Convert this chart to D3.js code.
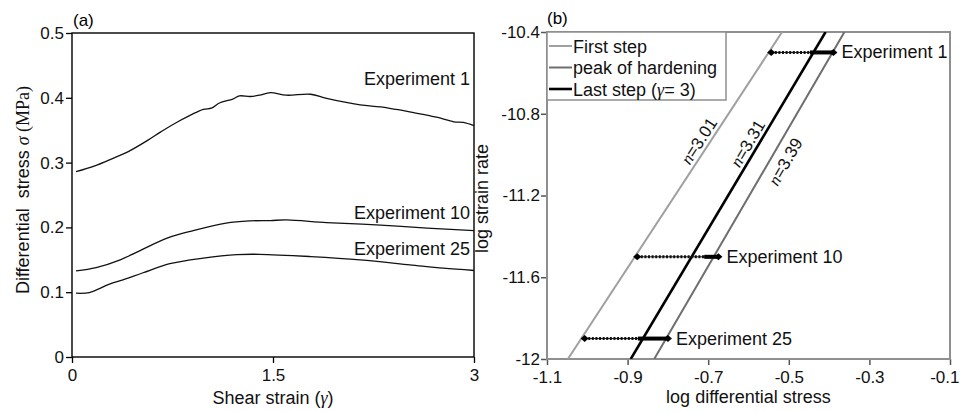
<!DOCTYPE html>
<html>
<head>
<meta charset="utf-8">
<script src="https://cdn.jsdelivr.net/npm/d3@7/dist/d3.min.js"></script>
<style>
  html, body { margin: 0; padding: 0; background: #fff; }
  svg { display: block; font-family: "Liberation Sans", Arial, sans-serif; }
  text { white-space: pre; }
</style>
</head>
<body>
<svg id="chart" width="960" height="412"></svg>
<script>
// ---- (a) stress–strain curves -------------------------------------------
const gammaExp1  = [0.03, 0.17, 0.31, 0.42, 0.57, 0.66, 0.79, 0.98, 1.04, 1.10, 1.20, 1.25, 1.33, 1.40, 1.48, 1.60, 1.78, 1.90, 2.15, 2.30, 2.42, 2.55, 2.72, 2.85, 2.92, 3.00];
const stressExp1 = [0.286, 0.295, 0.307, 0.317, 0.335, 0.347, 0.363, 0.382, 0.384, 0.392, 0.398, 0.403, 0.402, 0.404, 0.408, 0.404, 0.4055, 0.399, 0.389, 0.386, 0.382, 0.377, 0.370, 0.363, 0.362, 0.357];

const gammaExp10  = [0.03, 0.18, 0.36, 0.53, 0.71, 0.905, 1.15, 1.33, 1.48, 1.60, 1.90, 2.27, 2.65, 3.00];
const stressExp10 = [0.133, 0.138, 0.150, 0.1665, 0.1835, 0.195, 0.2066, 0.210, 0.2106, 0.2115, 0.2075, 0.204, 0.199, 0.195];

const gammaExp25  = [0.03, 0.13, 0.28, 0.38, 0.53, 0.73, 0.98, 1.23, 1.40, 1.78, 2.15, 2.52, 2.77, 3.00];
const stressExp25 = [0.0985, 0.0995, 0.1125, 0.119, 0.130, 0.144, 0.1526, 0.158, 0.1585, 0.155, 0.150, 0.1423, 0.137, 0.1335];

const experimentNames = ["Experiment 1", "Experiment 10", "Experiment 25"];

const strainTicks = [0, 1.5, 3];
const strainTickLabels = ["0", "1.5", "3"];
const stressTicks = [0, 0.1, 0.2, 0.3, 0.4, 0.5];
const stressTickLabels = ["0", "0.1", "0.2", "0.3", "0.4", "0.5"];

// ---- (b) flow-law plot ----------------------------------------------------
const logStrainRate = [-10.5, -11.5, -11.9];          // one row per experiment
const fitNames      = ["First step", "peak of hardening", "Last step"];
const fitExponent   = [3.01, 3.39, 3.31];               // n
const fitIntercept  = [-8.845, -9.173, -9.047];        // log rate at log stress = 0
const fitLabelRate  = [-10.96, -11.0, -10.97];         // where each n label sits

const logStressTicks = [-1.1, -0.9, -0.7, -0.5, -0.3, -0.1];
const logStressTickLabels = ["-1.1", "-0.9", "-0.7", "-0.5", "-0.3", "-0.1"];
const logRateTicks = [-12, -11.6, -11.2, -10.8, -10.4];
const logRateTickLabels = ["-12", "-11.6", "-11.2", "-10.8", "-10.4"];

// ---------------------------------------------------------------------------
const svg = d3.select("#chart");
const SERIF = "'Liberation Serif', 'Times New Roman', serif";
const FS = 17;

const curves = [
  { name: experimentNames[0], g: gammaExp1,  s: stressExp1 },
  { name: experimentNames[1], g: gammaExp10, s: stressExp10 },
  { name: experimentNames[2], g: gammaExp25, s: stressExp25 }
];

// ===== Panel (a) =====
const xL = d3.scaleLinear().domain([0, 3]).range([72, 474]);
const yL = d3.scaleLinear().domain([0, 0.5]).range([357, 33]);

const pa = svg.append("g");

pa.append("g")
  .attr("transform", `translate(0,${yL(0)})`)
  .call(d3.axisBottom(xL).tickValues(strainTicks)
        .tickFormat((d, i) => strainTickLabels[i]).tickSize(6).tickPadding(6))
  .call(g => g.select(".domain").remove());

pa.append("g")
  .attr("transform", `translate(${xL(0)},0)`)
  .call(d3.axisLeft(yL).tickValues(stressTicks)
        .tickFormat((d, i) => stressTickLabels[i]).tickSize(6).tickPadding(2))
  .call(g => g.select(".domain").remove());

pa.selectAll(".tick line").attr("stroke", "#000").attr("stroke-width", 1.3);
pa.selectAll(".tick text").attr("font-size", FS).attr("fill", "#111")
  .attr("font-family", "'Liberation Sans', Arial, sans-serif");

pa.append("rect")
  .attr("x", xL(0)).attr("y", yL(0.5))
  .attr("width", xL(3) - xL(0)).attr("height", yL(0) - yL(0.5))
  .attr("fill", "none").attr("stroke", "#000").attr("stroke-width", 1.4);

const lineL = d3.line()
  .x(d => xL(d[0])).y(d => yL(d[1]))
  .curve(d3.curveCatmullRom.alpha(0.5));

curves.forEach(c => {
  pa.append("path")
    .datum(c.g.map((g, i) => [g, c.s[i]]))
    .attr("d", lineL)
    .attr("fill", "none").attr("stroke", "#111").attr("stroke-width", 1.3);
});

// curve labels, right-aligned against the frame
const curveLabelY = [0.42, 0.213, 0.157];
curves.forEach((c, i) => {
  pa.append("text")
    .attr("x", xL(3) - 4).attr("y", yL(curveLabelY[i]))
    .attr("text-anchor", "end").attr("font-size", 18).attr("fill", "#111")
    .text(c.name);
});

pa.append("text").attr("x", 73).attr("y", 26).attr("font-size", 17).text("(a)");

// axis titles
const xtA = pa.append("text").attr("x", xL(1.5)).attr("y", 404)
  .attr("text-anchor", "middle").attr("font-size", 18).attr("fill", "#111");
xtA.append("tspan").text("Shear strain (");
xtA.append("tspan").attr("font-family", SERIF).attr("font-style", "italic").text("γ");
xtA.append("tspan").text(")");

const ytA = pa.append("text").attr("transform", "translate(29,190) rotate(-90)")
  .attr("text-anchor", "middle").attr("font-size", 18).attr("fill", "#111");
ytA.append("tspan").text("Differential  stress ");
ytA.append("tspan").attr("font-family", SERIF).attr("font-style", "italic").text("σ");
ytA.append("tspan").attr("font-family", SERIF).text(" (MPa)");

// ===== Panel (b) =====
const xR = d3.scaleLinear().domain([-1.1, -0.1]).range([547, 950]);
const yR = d3.scaleLinear().domain([-12, -10.4]).range([359, 32]);
const frameGrey = "#8f8f8f";

const pb = svg.append("g");

pb.append("defs").append("clipPath").attr("id", "clipB")
  .append("rect").attr("x", xR(-1.1)).attr("y", yR(-10.4))
  .attr("width", xR(-0.1) - xR(-1.1)).attr("height", yR(-12) - yR(-10.4));

pb.append("g")
  .attr("transform", `translate(0,${yR(-12)})`)
  .call(d3.axisBottom(xR).tickValues(logStressTicks)
        .tickFormat((d, i) => logStressTickLabels[i]).tickSize(6).tickPadding(6))
  .call(g => g.select(".domain").remove())
  // the last label sits against the right edge of the page
  .call(g => g.selectAll(".tick:last-of-type text").attr("text-anchor", "end").attr("x", 9));

pb.append("g")
  .attr("transform", `translate(${xR(-1.1)},0)`)
  .call(d3.axisLeft(yR).tickValues(logRateTicks)
        .tickFormat((d, i) => logRateTickLabels[i]).tickSize(6).tickPadding(1))
  .call(g => g.select(".domain").remove());

pb.selectAll(".tick line").attr("stroke", "#555").attr("stroke-width", 1.5);
pb.selectAll(".tick text").attr("font-size", FS).attr("fill", "#111")
  .attr("font-family", "'Liberation Sans', Arial, sans-serif");

pb.append("rect")
  .attr("x", xR(-1.1)).attr("y", yR(-10.4))
  .attr("width", xR(-0.1) - xR(-1.1)).attr("height", yR(-12) - yR(-10.4))
  .attr("fill", "none").attr("stroke", frameGrey).attr("stroke-width", 2);

// fitted flow laws: log rate = n * log stress + b
const fitColors = ["#a0a0a0", "#6e6e6e", "#000"];
const fitWidths = [2, 2, 2.6];
const fits = fitNames.map((name, i) => ({
  name, n: fitExponent[i], b: fitIntercept[i], color: fitColors[i], width: fitWidths[i],
  labelRate: fitLabelRate[i]
}));
const stressAt = (f, r) => (r - f.b) / f.n;

const plotB = pb.append("g").attr("clip-path", "url(#clipB)");
fits.forEach(f => {
  const ends = [-12, -10.4].map(r => [stressAt(f, r), r]);
  plotB.append("line")
    .attr("x1", xR(ends[0][0])).attr("y1", yR(ends[0][1]))
    .attr("x2", xR(ends[1][0])).attr("y2", yR(ends[1][1]))
    .attr("stroke", f.color).attr("stroke-width", f.width);
});

// n labels along the lines
const labelSide = [-1, 1, -1];   // above-left or below-right of each line
fits.forEach((f, i) => {
  const x0 = xR(stressAt(f, -12)), y0 = yR(-12);
  const x1 = xR(stressAt(f, -10.4)), y1 = yR(-10.4);
  const ang = Math.atan2(y1 - y0, x1 - x0) * 180 / Math.PI;
  const px = xR(stressAt(f, f.labelRate)), py = yR(f.labelRate);
  const t = pb.append("text")
    .attr("transform", `translate(${px},${py}) rotate(${ang})`)
    .attr("y", labelSide[i] < 0 ? -4 : 20)
    .attr("text-anchor", "middle").attr("font-size", 17).attr("fill", "#111");
  t.append("tspan").attr("font-family", SERIF).attr("font-style", "italic").text("n");
  t.append("tspan").text("=" + f.n.toFixed(2));
});

// experiment stress ranges: hardening (start → peak) dotted, softening (end → peak) solid
const diamond = d3.symbol().type(d3.symbolDiamond).size(22);
curves.forEach((c, i) => {
  const r = logStrainRate[i];
  const lo = Math.log10(d3.min(c.s));
  const hi = Math.log10(d3.max(c.s));
  const fin = Math.log10(c.s[c.s.length - 1]);
  const y = yR(r);
  pb.append("line")
    .attr("x1", xR(lo)).attr("x2", xR(hi)).attr("y1", y).attr("y2", y)
    .attr("stroke", "#111").attr("stroke-width", 1);
  pb.append("line")
    .attr("x1", xR(lo)).attr("x2", xR(hi)).attr("y1", y).attr("y2", y)
    .attr("stroke", "#111").attr("stroke-width", 3).attr("stroke-dasharray", "2,1.6");
  pb.append("line")
    .attr("x1", xR(fin)).attr("x2", xR(hi)).attr("y1", y).attr("y2", y)
    .attr("stroke", "#000").attr("stroke-width", 4);
  [lo, hi].forEach(v => {
    pb.append("path").attr("d", diamond)
      .attr("transform", `translate(${xR(v)},${y}) scale(1.6,0.8)`)
      .attr("fill", "#000");
  });
  pb.append("text")
    .attr("x", xR(hi) + 8).attr("y", y + 6)
    .attr("font-size", 18).attr("fill", "#111")
    .text(c.name);
});

// legend
const lg = pb.append("g");
lg.append("rect")
  .attr("x", xR(-1.1)).attr("y", yR(-10.4))
  .attr("width", 179).attr("height", 68)
  .attr("fill", "#fff").attr("stroke", frameGrey).attr("stroke-width", 1.5);
const legendOrder = [0, 1, 2];
legendOrder.forEach((k, row) => {
  const f = fits[k];
  const yy = 46 + row * 21.5;
  lg.append("line")
    .attr("x1", 549).attr("x2", 572).attr("y1", yy).attr("y2", yy)
    .attr("stroke", f.color).attr("stroke-width", f.width);
  const t = lg.append("text").attr("x", 573).attr("y", yy + 6.5)
    .attr("font-size", 18).attr("fill", "#111");
  if (k === 2) {
    t.append("tspan").text(f.name + " (");
    t.append("tspan").attr("font-family", SERIF).attr("font-style", "italic").text("γ");
    t.append("tspan").text("= 3)");
  } else {
    t.text(f.name);
  }
});

pb.append("text").attr("x", 547).attr("y", 24).attr("font-size", 17).text("(b)");

pb.append("text").attr("x", xR(-0.6)).attr("y", 403)
  .attr("text-anchor", "middle").attr("font-size", 18).attr("fill", "#111")
  .text("log differential stress");

pb.append("text").attr("transform", `translate(488,${(yR(-10.4) + yR(-12)) / 2 + 3}) rotate(-90)`)
  .attr("text-anchor", "middle").attr("font-size", 18).attr("fill", "#111")
  .text("log strain rate");
</script>
</body>
</html>
